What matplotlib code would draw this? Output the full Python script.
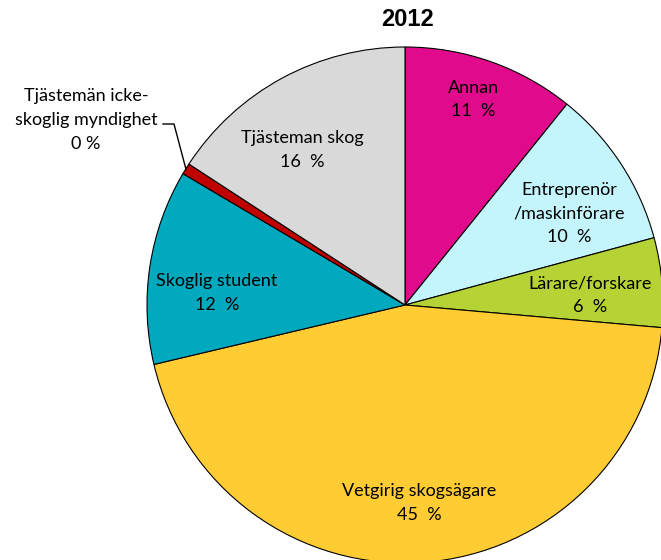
import numpy as np
import matplotlib.pyplot as plt

categories = ["Annan", "Entreprenör\n/maskinförare", "Lärare/forskare",
              "Vetgirig skogsägare", "Skoglig student",
              "Tjästemän icke-\nskoglig myndighet", "Tjästeman skog"]
values = [10.8, 10.0, 5.6, 44.9, 12.2, 0.7, 15.8]
shown_pct = [11, 10, 6, 45, 12, 0, 16]
colors = ["#E20A8C", "#C4F5FD", "#B6D335", "#FFCD33", "#00A9BE", "#C00000", "#D9D9D9"]

plt.rcParams["font.family"] = ["Lato", "DejaVu Sans"]

fig = plt.figure(figsize=(6.61, 5.6), dpi=100)
ax = fig.add_axes([0, 0, 1, 1])

cx, cy, r = 405, 560 - 305, 258
wedges, _ = ax.pie(values, colors=colors, startangle=90, counterclock=False,
                   center=(cx, cy), radius=r,
                   wedgeprops=dict(edgecolor="black", linewidth=0.8))
ax.set_xlim(0, 661)
ax.set_ylim(0, 560)
ax.set_aspect("equal")
ax.axis("off")

# per-slice label placement (radius fraction, angle tweak in degrees)
place = [(0.84, 1), (0.73, -4), (0.72, -2), (0.77, 0), (0.73, 5), None, (0.72, 5)]
for w, name, p, pl in zip(wedges, categories, shown_pct, place):
    if pl is None:
        continue
    ang = np.deg2rad((w.theta1 + w.theta2) / 2 + pl[1])
    x = cx + pl[0] * r * np.cos(ang)
    y = cy + pl[0] * r * np.sin(ang)
    ax.text(x, y, f"{name}\n{p}  %", ha="center", va="center",
            fontsize=13, linespacing=1.6)

# outside label for the small slice
w = wedges[5]
ang = np.deg2rad((w.theta1 + w.theta2) / 2)
ex, ey = cx + r * np.cos(ang), cy + r * np.sin(ang)
ax.text(86, 560 - 120, f"{categories[5]}\n{shown_pct[5]} %", ha="center", va="center",
        fontsize=13, linespacing=1.6)
ax.plot([163, 174, ex], [560 - 124, 560 - 124, ey], color="black", linewidth=1)

ax.text(408, 560 - 20, "2012", ha="center", va="center", fontsize=17,
        fontweight="bold", family="Liberation Sans")

fig.savefig("out.png", dpi=100)
